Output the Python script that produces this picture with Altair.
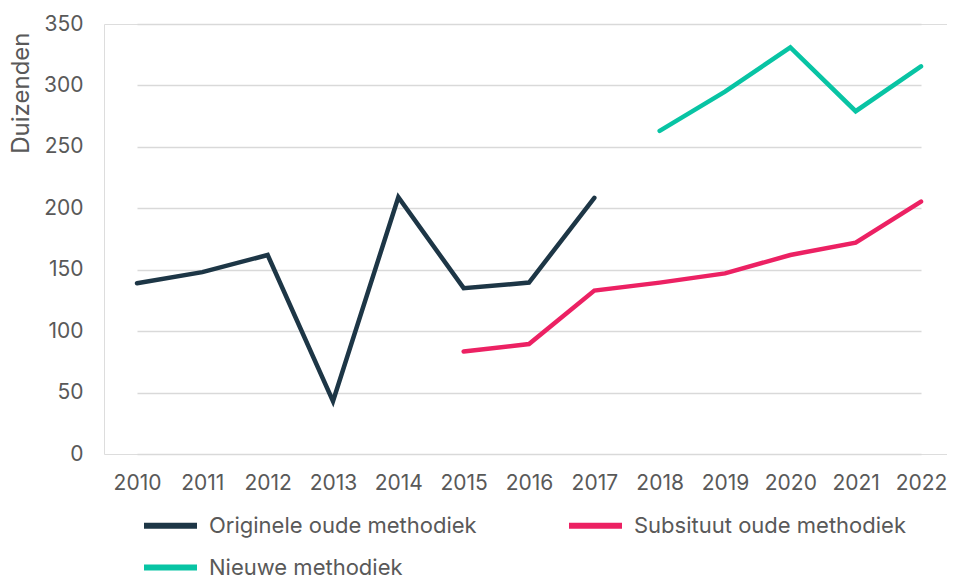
import altair as alt
import pandas as pd

years = [str(y) for y in range(2010, 2023)]
originele = [139, 148, 162, 43, 209, 135, 139.5, 208.5, None, None, None, None, None]
substituut = [None, None, None, None, None, 83.5, 89.5, 133, 139.5, 147, 162, 172, 205.5]
nieuwe = [None, None, None, None, None, None, None, None, 263, 295, 331, 279, 315.5]

series_names = ["Originele oude methodiek", "Subsituut oude methodiek", "Nieuwe methodiek"]
series_colors = ["#1d3646", "#ec2163", "#08c4a4"]
y_ticks = [0, 50, 100, 150, 200, 250, 300, 350]

rows = []
for name, vals in zip(series_names, [originele, substituut, nieuwe]):
    for yr, v in zip(years, vals):
        if v is not None:
            rows.append({"Jaar": yr, "Waarde": v, "Reeks": name})
df = pd.DataFrame(rows)

FONT = "Inter"
GRAY = "#595959"

chart = alt.Chart(df).mark_line(strokeWidth=4.5, strokeCap="round", strokeJoin="miter").encode(
    x=alt.X("Jaar:O", sort=years,
            scale=alt.Scale(type="point", domain=years, range=[33, 817], padding=0, round=False),
            axis=alt.Axis(title=None, labelAngle=0, domain=False, ticks=False,
                          labelPadding=18, labelFontSize=21, labelColor=GRAY, labelFont=FONT)),
    y=alt.Y("Waarde:Q", scale=alt.Scale(domain=[0, 350], nice=False),
            axis=alt.Axis(title="Duizenden", values=y_ticks, domain=False, ticks=False,
                          labelPadding=21, labelFontSize=21, labelColor=GRAY, labelFont=FONT,
                          gridColor="#d9d9d9", gridWidth=1.5,
                          titleFont=FONT, titleFontSize=24, titleFontWeight="normal",
                          titleColor=GRAY, titleAngle=-90, titleX=-83, titleY=8,
                          titleAlign="right", titleBaseline="middle")),
    color=alt.Color("Reeks:N",
                    scale=alt.Scale(domain=series_names, range=series_colors),
                    legend=alt.Legend(title=None, orient="none", legendX=37, legendY=472,
                                      direction="horizontal", columns=2, columnPadding=80,
                                      rowPadding=-19, padding=0, labelLimit=500,
                                      symbolType="stroke", symbolSize=2809, symbolStrokeWidth=6,
                                      labelFontSize=22, labelColor=GRAY, labelFont=FONT,
                                      labelOffset=9)),
    detail="Reeks:N",
).properties(
    width=843, height=430,
    padding={"left": 96, "top": 16, "right": 0, "bottom": 122},
    autosize=alt.AutoSizeParams(type="none"),
).configure_view(stroke=None).configure(background="white")

chart.save("out.html", embed_options={"renderer": "svg", "actions": False})
